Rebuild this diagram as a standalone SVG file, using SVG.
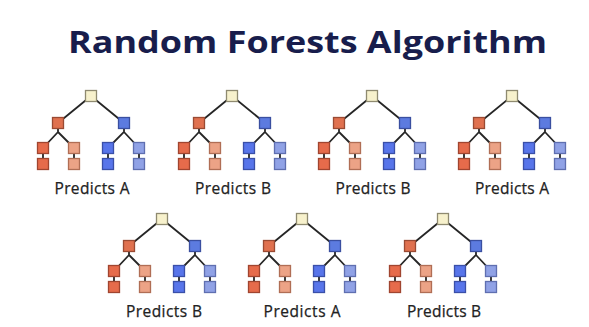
<svg xmlns="http://www.w3.org/2000/svg" width="589" height="327" viewBox="0 0 589 327">
<style>
.title{font-family:"Open Sans","DejaVu Sans",sans-serif;font-weight:bold;font-size:31px;fill:#181d4c}
.lbl{font-family:"Open Sans","Liberation Sans",sans-serif;font-size:15.5px;fill:#222222;text-anchor:middle;stroke:#222222;stroke-width:0.25}
.edge{fill:none;stroke:#262626;stroke-width:1.8}
rect{stroke-width:1.3}
.root{fill:#f7f1cc;stroke:#8f8a70}
.r1{fill:#e0714f;stroke:#9a4a33}
.r2{fill:#e66b4b;stroke:#a04530}
.r3{fill:#eca386;stroke:#b06e55}
.b1{fill:#5c7be0;stroke:#3a4fa0}
.b2{fill:#5875ea;stroke:#3a4fa8}
.b3{fill:#90a2e6;stroke:#5f6fb0}
</style>
<rect width="589" height="327" fill="#ffffff"/>
<text class="title" x="68" y="53" textLength="479" lengthAdjust="spacingAndGlyphs">Random Forests Algorithm</text>
<g id="connectors">
<path class="edge" d="M91 96L58 123M91 96L124 123M58 123V132L43 148M58 132L74 148M124 123V132L108 148M124 132L139 148M43 148V164M74 148V164M108 148V164M139 148V164"/>
<path class="edge" d="M232 96L199 123M232 96L265 123M199 123V132L184 148M199 132L215 148M265 123V132L249 148M265 132L280 148M184 148V164M215 148V164M249 148V164M280 148V164"/>
<path class="edge" d="M372 96L339 123M372 96L405 123M339 123V132L324 148M339 132L355 148M405 123V132L389 148M405 132L420 148M324 148V164M355 148V164M389 148V164M420 148V164"/>
<path class="edge" d="M512 96L479 123M512 96L545 123M479 123V132L464 148M479 132L495 148M545 123V132L529 148M545 132L560 148M464 148V164M495 148V164M529 148V164M560 148V164"/>
<path class="edge" d="M162 219L129 246M162 219L195 246M129 246V255L114 271M129 255L145 271M195 246V255L179 271M195 255L210 271M114 271V287M145 271V287M179 271V287M210 271V287"/>
<path class="edge" d="M302 219L269 246M302 219L335 246M269 246V255L254 271M269 255L285 271M335 246V255L319 271M335 255L350 271M254 271V287M285 271V287M319 271V287M350 271V287"/>
<path class="edge" d="M443 219L410 246M443 219L476 246M410 246V255L395 271M410 255L426 271M476 246V255L460 271M476 255L491 271M395 271V287M426 271V287M460 271V287M491 271V287"/>
</g>
<g id="tree1">
<g id="t1-root"><rect class="root" x="85.5" y="90.5" width="11" height="11"/></g>
<g id="t1-a"><rect class="r1" x="52.5" y="117.5" width="11" height="11"/></g>
<g id="t1-b"><rect class="b1" x="118.5" y="117.5" width="11" height="11"/></g>
<g id="t1-aa"><rect class="r2" x="37.5" y="142.5" width="11" height="11"/></g>
<g id="t1-ab"><rect class="r3" x="68.5" y="142.5" width="11" height="11"/></g>
<g id="t1-ba"><rect class="b2" x="102.5" y="142.5" width="11" height="11"/></g>
<g id="t1-bb"><rect class="b3" x="133.5" y="142.5" width="11" height="11"/></g>
<g id="t1-aa1"><rect class="r2" x="37.5" y="158.5" width="11" height="11"/></g>
<g id="t1-ab1"><rect class="r3" x="68.5" y="158.5" width="11" height="11"/></g>
<g id="t1-ba1"><rect class="b2" x="102.5" y="158.5" width="11" height="11"/></g>
<g id="t1-bb1"><rect class="b3" x="133.5" y="158.5" width="11" height="11"/></g>
<text class="lbl" x="92" y="194" textLength="75">Predicts A</text>
</g>
<g id="tree2">
<g id="t2-root"><rect class="root" x="226.5" y="90.5" width="11" height="11"/></g>
<g id="t2-a"><rect class="r1" x="193.5" y="117.5" width="11" height="11"/></g>
<g id="t2-b"><rect class="b1" x="259.5" y="117.5" width="11" height="11"/></g>
<g id="t2-aa"><rect class="r2" x="178.5" y="142.5" width="11" height="11"/></g>
<g id="t2-ab"><rect class="r3" x="209.5" y="142.5" width="11" height="11"/></g>
<g id="t2-ba"><rect class="b2" x="243.5" y="142.5" width="11" height="11"/></g>
<g id="t2-bb"><rect class="b3" x="274.5" y="142.5" width="11" height="11"/></g>
<g id="t2-aa1"><rect class="r2" x="178.5" y="158.5" width="11" height="11"/></g>
<g id="t2-ab1"><rect class="r3" x="209.5" y="158.5" width="11" height="11"/></g>
<g id="t2-ba1"><rect class="b2" x="243.5" y="158.5" width="11" height="11"/></g>
<g id="t2-bb1"><rect class="b3" x="274.5" y="158.5" width="11" height="11"/></g>
<text class="lbl" x="233" y="194" textLength="76">Predicts B</text>
</g>
<g id="tree3">
<g id="t3-root"><rect class="root" x="366.5" y="90.5" width="11" height="11"/></g>
<g id="t3-a"><rect class="r1" x="333.5" y="117.5" width="11" height="11"/></g>
<g id="t3-b"><rect class="b1" x="399.5" y="117.5" width="11" height="11"/></g>
<g id="t3-aa"><rect class="r2" x="318.5" y="142.5" width="11" height="11"/></g>
<g id="t3-ab"><rect class="r3" x="349.5" y="142.5" width="11" height="11"/></g>
<g id="t3-ba"><rect class="b2" x="383.5" y="142.5" width="11" height="11"/></g>
<g id="t3-bb"><rect class="b3" x="414.5" y="142.5" width="11" height="11"/></g>
<g id="t3-aa1"><rect class="r2" x="318.5" y="158.5" width="11" height="11"/></g>
<g id="t3-ab1"><rect class="r3" x="349.5" y="158.5" width="11" height="11"/></g>
<g id="t3-ba1"><rect class="b2" x="383.5" y="158.5" width="11" height="11"/></g>
<g id="t3-bb1"><rect class="b3" x="414.5" y="158.5" width="11" height="11"/></g>
<text class="lbl" x="373" y="194" textLength="75">Predicts B</text>
</g>
<g id="tree4">
<g id="t4-root"><rect class="root" x="506.5" y="90.5" width="11" height="11"/></g>
<g id="t4-a"><rect class="r1" x="473.5" y="117.5" width="11" height="11"/></g>
<g id="t4-b"><rect class="b1" x="539.5" y="117.5" width="11" height="11"/></g>
<g id="t4-aa"><rect class="r2" x="458.5" y="142.5" width="11" height="11"/></g>
<g id="t4-ab"><rect class="r3" x="489.5" y="142.5" width="11" height="11"/></g>
<g id="t4-ba"><rect class="b2" x="523.5" y="142.5" width="11" height="11"/></g>
<g id="t4-bb"><rect class="b3" x="554.5" y="142.5" width="11" height="11"/></g>
<g id="t4-aa1"><rect class="r2" x="458.5" y="158.5" width="11" height="11"/></g>
<g id="t4-ab1"><rect class="r3" x="489.5" y="158.5" width="11" height="11"/></g>
<g id="t4-ba1"><rect class="b2" x="523.5" y="158.5" width="11" height="11"/></g>
<g id="t4-bb1"><rect class="b3" x="554.5" y="158.5" width="11" height="11"/></g>
<text class="lbl" x="512" y="194" textLength="74">Predicts A</text>
</g>
<g id="tree5">
<g id="t5-root"><rect class="root" x="156.5" y="213.5" width="11" height="11"/></g>
<g id="t5-a"><rect class="r1" x="123.5" y="240.5" width="11" height="11"/></g>
<g id="t5-b"><rect class="b1" x="189.5" y="240.5" width="11" height="11"/></g>
<g id="t5-aa"><rect class="r2" x="108.5" y="265.5" width="11" height="11"/></g>
<g id="t5-ab"><rect class="r3" x="139.5" y="265.5" width="11" height="11"/></g>
<g id="t5-ba"><rect class="b2" x="173.5" y="265.5" width="11" height="11"/></g>
<g id="t5-bb"><rect class="b3" x="204.5" y="265.5" width="11" height="11"/></g>
<g id="t5-aa1"><rect class="r2" x="108.5" y="281.5" width="11" height="11"/></g>
<g id="t5-ab1"><rect class="r3" x="139.5" y="281.5" width="11" height="11"/></g>
<g id="t5-ba1"><rect class="b2" x="173.5" y="281.5" width="11" height="11"/></g>
<g id="t5-bb1"><rect class="b3" x="204.5" y="281.5" width="11" height="11"/></g>
<text class="lbl" x="164" y="317" textLength="76">Predicts B</text>
</g>
<g id="tree6">
<g id="t6-root"><rect class="root" x="296.5" y="213.5" width="11" height="11"/></g>
<g id="t6-a"><rect class="r1" x="263.5" y="240.5" width="11" height="11"/></g>
<g id="t6-b"><rect class="b1" x="329.5" y="240.5" width="11" height="11"/></g>
<g id="t6-aa"><rect class="r2" x="248.5" y="265.5" width="11" height="11"/></g>
<g id="t6-ab"><rect class="r3" x="279.5" y="265.5" width="11" height="11"/></g>
<g id="t6-ba"><rect class="b2" x="313.5" y="265.5" width="11" height="11"/></g>
<g id="t6-bb"><rect class="b3" x="344.5" y="265.5" width="11" height="11"/></g>
<g id="t6-aa1"><rect class="r2" x="248.5" y="281.5" width="11" height="11"/></g>
<g id="t6-ab1"><rect class="r3" x="279.5" y="281.5" width="11" height="11"/></g>
<g id="t6-ba1"><rect class="b2" x="313.5" y="281.5" width="11" height="11"/></g>
<g id="t6-bb1"><rect class="b3" x="344.5" y="281.5" width="11" height="11"/></g>
<text class="lbl" x="302" y="317" textLength="77">Predicts A</text>
</g>
<g id="tree7">
<g id="t7-root"><rect class="root" x="437.5" y="213.5" width="11" height="11"/></g>
<g id="t7-a"><rect class="r1" x="404.5" y="240.5" width="11" height="11"/></g>
<g id="t7-b"><rect class="b1" x="470.5" y="240.5" width="11" height="11"/></g>
<g id="t7-aa"><rect class="r2" x="389.5" y="265.5" width="11" height="11"/></g>
<g id="t7-ab"><rect class="r3" x="420.5" y="265.5" width="11" height="11"/></g>
<g id="t7-ba"><rect class="b2" x="454.5" y="265.5" width="11" height="11"/></g>
<g id="t7-bb"><rect class="b3" x="485.5" y="265.5" width="11" height="11"/></g>
<g id="t7-aa1"><rect class="r2" x="389.5" y="281.5" width="11" height="11"/></g>
<g id="t7-ab1"><rect class="r3" x="420.5" y="281.5" width="11" height="11"/></g>
<g id="t7-ba1"><rect class="b2" x="454.5" y="281.5" width="11" height="11"/></g>
<g id="t7-bb1"><rect class="b3" x="485.5" y="281.5" width="11" height="11"/></g>
<text class="lbl" x="444" y="317" textLength="74">Predicts B</text>
</g>
</svg>
